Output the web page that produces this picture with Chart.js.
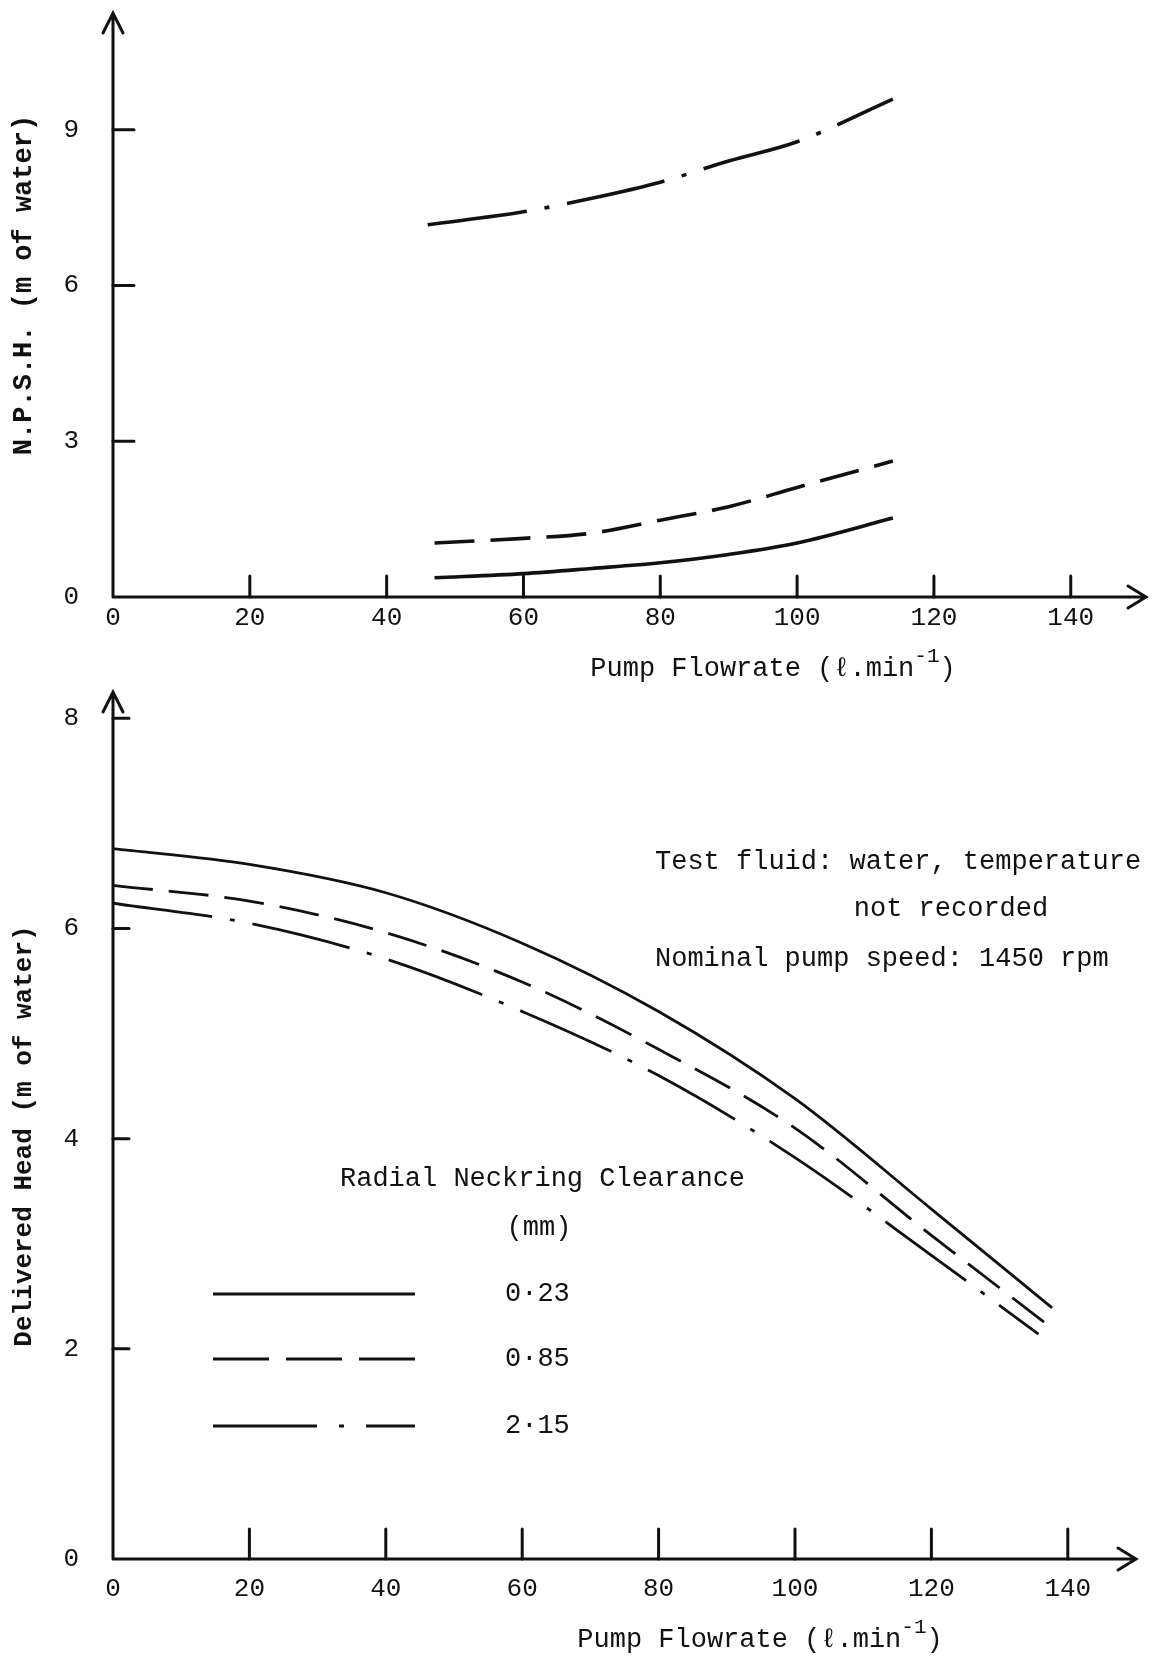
<!DOCTYPE html>
<html>
<head>
<meta charset="utf-8">
<script src="https://cdn.jsdelivr.net/npm/chart.js@4.4.0/dist/chart.umd.min.js"></script>
<style>
  body { margin: 0; background: #fff; }
  .box { position: absolute; left: 0; }
</style>
</head>
<body>
<div class="box" style="top:0"><canvas id="npshChart" width="1159" height="700"></canvas></div>
<div class="box" style="top:680px"><canvas id="headChart" width="1159" height="977"></canvas></div>
<script>
// ---- dados ----
// curva de cima: NPSH (m de água) vs vazão (l/min)
const npshFlow023 = [47, 60, 70, 80, 90, 100, 114];
const npsh023     = [0.37, 0.45, 0.55, 0.66, 0.82, 1.04, 1.52];
const npshFlow085 = [47, 60, 70, 80, 90, 100, 114];
const npsh085     = [1.04, 1.13, 1.23, 1.48, 1.74, 2.11, 2.62];
const npshFlow215 = [46, 60, 70, 80, 90, 100, 114];
const npsh215     = [7.17, 7.42, 7.68, 7.99, 8.40, 8.77, 9.59];

// curva de baixo: altura entregue (m de água) vs vazão
const headFlow023 = [0, 20, 40, 60, 80, 100, 120, 137.7];
const head023     = [6.76, 6.61, 6.34, 5.86, 5.21, 4.38, 3.33, 2.39];
const headFlow085 = [0, 20, 40, 60, 80, 100, 120, 136.6];
const head085     = [6.41, 6.26, 5.96, 5.49, 4.85, 4.10, 3.08, 2.25];
const headFlow215 = [0, 20, 40, 60, 80, 100, 120, 135.7];
const head215     = [6.24, 6.05, 5.71, 5.21, 4.60, 3.82, 2.89, 2.14];

const flowTicks = [0, 20, 40, 60, 80, 100, 120, 140];
const npshTicks = [0, 3, 6, 9];
const headTicks = [0, 2, 4, 6, 8];
const clearanceLabels = ['0·23', '0·85', '2·15'];

const MONO = "'Liberation Mono', 'DejaVu Sans Mono', monospace";
const INK = '#111';
const dashes = [[], [40, 16], [100, 18, 5, 18]];

function pts(xs, ys) {
    return xs.map((x, i) => ({ x: x, y: ys[i] }));
}

function serie(label, xs, ys, i, w) {
    return {
        label: label,
        data: pts(xs, ys),
        borderColor: INK,
        borderWidth: w,
        borderDash: dashes[i],
        pointRadius: 0,
        fill: false,
        cubicInterpolationMode: 'monotone'
    };
}

// desenha eixos com setas, marcas internas, títulos e textos
function eixosPlugin(cfg) {
    return {
        id: 'eixos',
        afterDraw(chart) {
            const ctx = chart.ctx;
            const a = chart.chartArea;
            const sx = chart.scales.x, sy = chart.scales.y;
            const x0 = sx.getPixelForValue(0), y0 = sy.getPixelForValue(0);
            ctx.save();
            ctx.strokeStyle = INK;
            ctx.fillStyle = INK;
            ctx.lineWidth = 3;
            ctx.lineCap = 'round';
            ctx.beginPath();
            ctx.moveTo(x0, y0); ctx.lineTo(x0, a.top);
            ctx.moveTo(x0, y0); ctx.lineTo(a.right, y0);
            // setas
            ctx.moveTo(x0 - 10, a.top + 20); ctx.lineTo(x0, a.top); ctx.lineTo(x0 + 10, a.top + 20);
            ctx.moveTo(a.right - 18, y0 - 11); ctx.lineTo(a.right, y0); ctx.lineTo(a.right - 18, y0 + 11);
            ctx.stroke();

            ctx.beginPath();
            cfg.yTicks.forEach(v => {
                if (v === 0) return;
                const p = sy.getPixelForValue(v);
                ctx.moveTo(x0, p); ctx.lineTo(x0 + cfg.yTickLen, p);
            });
            flowTicks.forEach(v => {
                if (v === 0) return;
                const p = sx.getPixelForValue(v);
                ctx.moveTo(p, y0); ctx.lineTo(p, y0 - cfg.xTickLen);
            });
            ctx.stroke();

            // título do eixo x com expoente
            ctx.textBaseline = 'middle';
            ctx.font = '27px ' + MONO;
            const base = 'Pump Flowrate (ℓ.min';
            const wBase = ctx.measureText(base).width;
            ctx.font = '21px ' + MONO;
            const wSup = ctx.measureText('-1').width;
            ctx.font = '27px ' + MONO;
            const wEnd = ctx.measureText(')').width;
            let tx = cfg.xTitle[0] - (wBase + wSup + wEnd) / 2;
            const ty = cfg.xTitle[1];
            ctx.textAlign = 'left';
            ctx.fillText(base, tx, ty);
            ctx.font = '21px ' + MONO;
            ctx.fillText('-1', tx + wBase, ty - 13);
            ctx.font = '27px ' + MONO;
            ctx.fillText(')', tx + wBase + wSup, ty);

            // título do eixo y
            ctx.save();
            ctx.translate(cfg.yTitle[0], cfg.yTitle[1]);
            ctx.rotate(-Math.PI / 2);
            ctx.textAlign = 'center';
            ctx.font = 'bold ' + cfg.yTitleSize + 'px ' + MONO;
            ctx.fillText(cfg.yTitleText, 0, 0);
            ctx.restore();

            if (cfg.extra) cfg.extra(ctx);
            ctx.restore();
        }
    };
}

function escalas(xMax, yMax, yTicks, yPad, xPad, xBoxH) {
    return {
        x: {
            type: 'linear', min: 0, max: xMax,
            border: { display: false },
            grid: { display: false },
            afterBuildTicks: s => { s.ticks = flowTicks.map(v => ({ value: v })); },
            afterFit: s => { s.height = xBoxH; s.paddingLeft = 0; s.paddingRight = 0; },
            ticks: { color: INK, padding: xPad, font: { family: MONO, size: 26 } }
        },
        y: {
            type: 'linear', min: 0, max: yMax,
            border: { display: false },
            grid: { display: false },
            afterBuildTicks: s => { s.ticks = yTicks.map(v => ({ value: v })); },
            afterFit: s => { s.width = 113; s.paddingTop = 0; s.paddingBottom = 0; },
            ticks: { color: INK, padding: yPad, font: { family: MONO, size: 26 } }
        }
    };
}

const baseOpts = {
    responsive: false,
    animation: false,
    events: [],
    plugins: { legend: { display: false }, tooltip: { enabled: false } }
};

// ---- gráfico de cima: NPSH ----
new Chart(document.getElementById('npshChart'), {
    type: 'line',
    data: {
        datasets: [
            serie(clearanceLabels[0], npshFlow023, npsh023, 0, 3.6),
            serie(clearanceLabels[1], npshFlow085, npsh085, 1, 3.6),
            serie(clearanceLabels[2], npshFlow215, npsh215, 2, 3.6)
        ]
    },
    options: Object.assign({}, baseOpts, {
        layout: { autoPadding: false, padding: { top: 13, right: 13, left: 0, bottom: 0 } },
        scales: escalas(151, 11.25, npshTicks, 26, -2, 103)
    }),
    plugins: [eixosPlugin({
        yTicks: npshTicks, yTickLen: 21, xTickLen: 21,
        xTitle: [773, 669], yTitle: [24, 285], yTitleSize: 27,
        yTitleText: 'N.P.S.H. (m of water)'
    })]
});

// ---- gráfico de baixo: altura entregue ----
new Chart(document.getElementById('headChart'), {
    type: 'line',
    data: {
        datasets: [
            serie(clearanceLabels[0], headFlow023, head023, 0, 2.8),
            serie(clearanceLabels[1], headFlow085, head085, 1, 2.8),
            serie(clearanceLabels[2], headFlow215, head215, 2, 2.8)
        ]
    },
    options: Object.assign({}, baseOpts, {
        layout: { autoPadding: false, padding: { top: 12, right: 23, left: 0, bottom: 0 } },
        scales: escalas(150, 8.25, headTicks, 26, 7, 98)
    }),
    plugins: [eixosPlugin({
        yTicks: headTicks, yTickLen: 16, xTickLen: 30,
        xTitle: [760, 960], yTitle: [24, 456], yTitleSize: 26,
        yTitleText: 'Delivered Head (m of water)',
        extra: function (ctx) {
            ctx.font = '27px ' + MONO;
            ctx.textBaseline = 'middle';
            ctx.textAlign = 'left';
            ctx.fillText('Test fluid: water, temperature', 655, 182);
            ctx.textAlign = 'center';
            ctx.fillText('not recorded', 951, 229);
            ctx.textAlign = 'left';
            ctx.fillText('Nominal pump speed: 1450 rpm', 655, 279);
            ctx.fillText('Radial Neckring Clearance', 340, 499);
            ctx.textAlign = 'center';
            ctx.fillText('(mm)', 539, 548);
            // legenda
            const ly = [614, 679, 746];
            ly.forEach((y, i) => {
                ctx.save();
                ctx.lineWidth = 3;
                ctx.lineCap = 'butt';
                ctx.setLineDash(i === 1 ? [56, 17] : i === 2 ? [104, 22, 5, 22] : []);
                ctx.beginPath();
                ctx.moveTo(213, y); ctx.lineTo(415, y);
                ctx.stroke();
                ctx.restore();
                ctx.textAlign = 'left';
                ctx.fillText(clearanceLabels[i], 505, y);
            });
        }
    })]
});
</script>
</body>
</html>
